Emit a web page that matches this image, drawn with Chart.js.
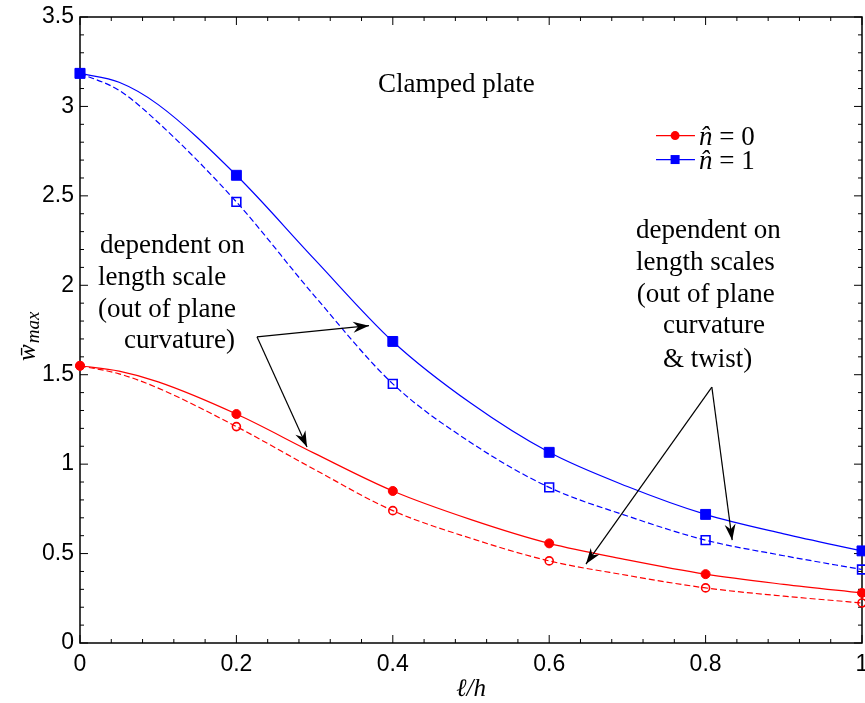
<!DOCTYPE html>
<html>
<head>
<meta charset="utf-8">
<script src="https://cdn.jsdelivr.net/npm/chart.js@4.4.1/dist/chart.umd.min.js"></script>
<style>
    html, body { margin: 0; padding: 0; background: #fff; }
    canvas { display: block; }
</style>
</head>
<body>
<canvas id="myChart" width="865" height="703"></canvas>
<script>
// l/h values; markers sit on 0, 0.2, ... 1
const lengthRatio = [0, 0.05, 0.1, 0.2, 0.3, 0.4, 0.5, 0.6, 0.7, 0.8, 0.9, 1];

// n = 0, red
const n0Curvature      = [1.55, 1.52, 1.46, 1.28, 1.06, 0.85, 0.69, 0.557, 0.465, 0.385, 0.328, 0.28];
const n0CurvatureTwist = [1.55, 1.505, 1.425, 1.21, 0.97, 0.74, 0.585, 0.459, 0.378, 0.308, 0.262, 0.224];

// n = 1, blue
const n1Curvature      = [3.185, 3.135, 3.01, 2.615, 2.145, 1.686, 1.34, 1.066, 0.875, 0.719, 0.61, 0.515];
const n1CurvatureTwist = [3.185, 3.09, 2.91, 2.466, 1.94, 1.449, 1.12, 0.87, 0.71, 0.575, 0.488, 0.411];

const xTickLabels = ["0", "0.2", "0.4", "0.6", "0.8", "1"];
const yTickLabels = ["0", "0.5", "1", "1.5", "2", "2.5", "3", "3.5"];

const RED = "#ff0000";
const BLUE = "#0000ff";
const SERIF = "'Liberation Serif', 'Times New Roman', serif";

function toPoints(values) {
    return lengthRatio.map(function (x, i) { return { x: x, y: values[i] }; });
}

// only put a marker where l/h is a multiple of 0.2
function markerRadius(r) {
    return function (c) {
        const k = lengthRatio[c.dataIndex] * 5;
        return Math.abs(k - Math.round(k)) < 1e-6 ? r : 0;
    };
}

function curve(values, color, dashed, style, radius) {
    return {
        data: toPoints(values),
        borderColor: color,
        borderWidth: 1.2,
        borderDash: dashed ? [6, 3] : [],
        cubicInterpolationMode: "monotone",
        pointStyle: style,
        pointRadius: markerRadius(radius),
        pointHoverRadius: markerRadius(radius),
        pointBackgroundColor: dashed ? "rgba(0,0,0,0)" : color,
        pointBorderColor: color,
        pointBorderWidth: dashed ? 1.6 : 1,
        clip: false
    };
}

// box with inward ticks on all four sides
const framePlugin = {
    id: "frame",
    beforeDatasetsDraw(chart) {
        const { ctx, chartArea: a, scales: { x, y } } = chart;
        ctx.save();
        ctx.strokeStyle = "#000";
        ctx.lineWidth = 1.5;
        ctx.strokeRect(a.left, a.top, a.right - a.left, a.bottom - a.top);
        ctx.lineWidth = 1;
        ctx.beginPath();
        for (let i = 0; i <= 25; i++) {
            const px = x.getPixelForValue(i * 0.04);
            const len = i % 5 === 0 ? 8 : 4;
            ctx.moveTo(px, a.bottom); ctx.lineTo(px, a.bottom - len);
            ctx.moveTo(px, a.top); ctx.lineTo(px, a.top + len);
        }
        for (let i = 0; i <= 35; i++) {
            const py = y.getPixelForValue(i * 0.1);
            const len = i % 5 === 0 ? 8 : 4;
            ctx.moveTo(a.left, py); ctx.lineTo(a.left + len, py);
            ctx.moveTo(a.right, py); ctx.lineTo(a.right - len, py);
        }
        ctx.stroke();
        ctx.restore();
    }
};

function drawArrow(ctx, x0, y0, x1, y1) {
    ctx.beginPath();
    ctx.moveTo(x0, y0);
    ctx.lineTo(x1, y1);
    ctx.stroke();
    const ang = Math.atan2(y1 - y0, x1 - x0);
    ctx.save();
    ctx.translate(x1, y1);
    ctx.rotate(ang);
    ctx.beginPath();
    ctx.moveTo(0, 0);
    ctx.lineTo(-16, -5.5);
    ctx.lineTo(-11, 0);
    ctx.lineTo(-16, 5.5);
    ctx.closePath();
    ctx.fill();
    ctx.restore();
}

// text and arrows, placed in data units
const leftNote = [
    { text: "dependent on", x: 0.0256, y: 2.180 },
    { text: "length scale", x: 0.023, y: 2.000 },
    { text: "(out of plane", x: 0.023, y: 1.824 },
    { text: "curvature)", x: 0.0563, y: 1.650 }
];
const rightNote = [
    { text: "dependent on", x: 0.711, y: 2.266 },
    { text: "length scales", x: 0.711, y: 2.087 },
    { text: "(out of plane", x: 0.712, y: 1.908 },
    { text: "curvature", x: 0.7455, y: 1.734 },
    { text: "& twist)", x: 0.7455, y: 1.544 }
];
const arrows = [
    { from: [0.2263, 1.712], to: [0.3696, 1.774] },
    { from: [0.2263, 1.712], to: [0.2903, 1.096] },
    { from: [0.808, 1.431], to: [0.647, 0.441] },
    { from: [0.808, 1.431], to: [0.834, 0.575] }
];

const notesPlugin = {
    id: "notes",
    afterDatasetsDraw(chart) {
        const { ctx, chartArea: a, scales: { x, y } } = chart;
        ctx.save();
        ctx.fillStyle = "#000";
        ctx.textBaseline = "alphabetic";
        ctx.textAlign = "left";
        ctx.font = "27px " + SERIF;

        ctx.fillText("Clamped plate", x.getPixelForValue(0.381), y.getPixelForValue(3.078));
        leftNote.concat(rightNote).forEach(function (n) {
            ctx.fillText(n.text, x.getPixelForValue(n.x), y.getPixelForValue(n.y));
        });

        ctx.strokeStyle = "#000";
        ctx.lineWidth = 1.2;
        arrows.forEach(function (ar) {
            drawArrow(ctx,
                x.getPixelForValue(ar.from[0]), y.getPixelForValue(ar.from[1]),
                x.getPixelForValue(ar.to[0]), y.getPixelForValue(ar.to[1]));
        });

        // legend
        const legend = [
            { label: "0", color: RED, style: "circle", y: 2.837 },
            { label: "1", color: BLUE, style: "rect", y: 2.703 }
        ];
        legend.forEach(function (l) {
            const py = y.getPixelForValue(l.y);
            const x0 = x.getPixelForValue(0.7366), x1 = x.getPixelForValue(0.7864);
            const xm = x.getPixelForValue(0.761);
            ctx.strokeStyle = l.color;
            ctx.lineWidth = 1.2;
            ctx.beginPath(); ctx.moveTo(x0, py); ctx.lineTo(x1, py); ctx.stroke();
            ctx.fillStyle = l.color;
            if (l.style === "circle") {
                ctx.beginPath(); ctx.arc(xm, py, 4.5, 0, Math.PI * 2); ctx.fill();
            } else {
                ctx.fillRect(xm - 4.5, py - 4.5, 9, 9);
            }
            ctx.fillStyle = "#000";
            const tx = x.getPixelForValue(0.7916), ty = py + 9;
            ctx.font = "italic 27px " + SERIF;
            ctx.fillText("n\u0302", tx, ty);
            const w = ctx.measureText("n\u0302").width;
            ctx.font = "27px " + SERIF;
            ctx.fillText(" = " + l.label, tx + w, ty);
        });

        // axis titles
        ctx.font = "italic 25px " + SERIF;
        ctx.textAlign = "center";
        ctx.fillText("\u2113/h", (a.left + a.right) / 2, 696);

        ctx.save();
        ctx.translate(35, 361);
        ctx.rotate(-Math.PI / 2);
        ctx.textAlign = "left";
        ctx.font = "italic 25px " + SERIF;
        ctx.fillText("w\u0304", 0, 0);
        const ww = ctx.measureText("w\u0304").width;
        ctx.font = "italic 19px " + SERIF;
        ctx.fillText("max", ww + 1, 4);
        ctx.restore();

        ctx.restore();
    }
};

document.addEventListener("DOMContentLoaded", function () {

    const ctx = document.getElementById("myChart");

    new Chart(ctx, {
        type: "line",
        data: {
            datasets: [
                curve(n0Curvature, RED, false, "circle", 4.5),
                curve(n0CurvatureTwist, RED, true, "circle", 4),
                curve(n1Curvature, BLUE, false, "rect", 7),
                curve(n1CurvatureTwist, BLUE, true, "rect", 6.2)
            ]
        },
        options: {
            responsive: false,
            animation: false,
            events: [],
            layout: {
                autoPadding: false,
                padding: { top: 17, right: 3, left: 0, bottom: 0 }
            },
            plugins: {
                legend: { display: false },
                tooltip: { enabled: false }
            },
            scales: {
                x: {
                    type: "linear",
                    min: 0,
                    max: 1,
                    grid: { display: false, drawTicks: false },
                    border: { display: false },
                    afterFit: function (s) {
                        s.height = 60;
                        s.paddingLeft = 0;
                        s.paddingRight = 0;
                    },
                    ticks: {
                        stepSize: 0.2,
                        padding: 8,
                        color: "#000",
                        font: { family: "'Liberation Sans', Arial, sans-serif", size: 23 },
                        callback: function (v, i) { return xTickLabels[i]; }
                    }
                },
                y: {
                    min: 0,
                    max: 3.5,
                    grid: { display: false, drawTicks: false },
                    border: { display: false },
                    afterFit: function (s) {
                        s.width = 80;
                        s.paddingTop = 0;
                        s.paddingBottom = 0;
                    },
                    ticks: {
                        stepSize: 0.5,
                        padding: 6,
                        color: "#000",
                        font: { family: "'Liberation Sans', Arial, sans-serif", size: 23 },
                        callback: function (v, i) { return yTickLabels[i]; }
                    }
                }
            }
        },
        plugins: [framePlugin, notesPlugin]
    });

});
</script>
</body>
</html>
